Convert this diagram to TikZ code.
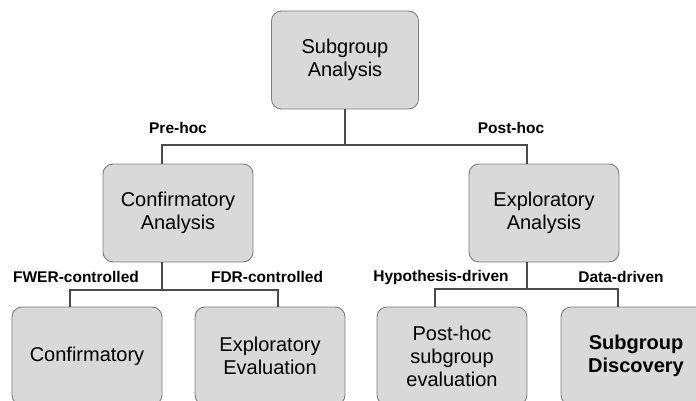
\documentclass[tikz,border=0pt]{standalone}
\usepackage{fontspec}
\setmainfont{Liberation Sans}
\usetikzlibrary{positioning, calc}
\usepackage{xcolor}
\definecolor{sgfill}{RGB}{217, 217, 217}
\definecolor{sgedge}{RGB}{125, 125, 125}
\definecolor{sgline}{RGB}{75, 75, 75}
\tikzset{
  sgbox/.style={
    rectangle, rounded corners=10pt,
    draw=sgedge, fill=sgfill, line width=0.9pt,
    minimum width=150pt, minimum height=98pt,
    text width=140pt, align=center,
    font=\fontsize{20}{23}\selectfont, inner sep=0pt
  },
  lbl/.style={
    font=\fontsize{15.5}{18}\selectfont\bfseries, inner sep=0pt
  },
  conn/.style={line width=2pt, color=sgline},
}
\begin{document}
\begin{tikzpicture}[x=1pt, y=-1pt]
    \useasboundingbox (0,0) rectangle (696,401);
    \clip (0,0) rectangle (696,401);

    \node[sgbox, minimum width=147pt] (sga) at (345,60) {Subgroup\\Analysis};

    \node[sgbox] (ca) at (178,213) {Confirmatory\\Analysis};
    \node[sgbox] (ea) at (544,213) {Exploratory\\Analysis};

    \node[sgbox] (cf)  at (87,356)  {Confirmatory};
    \node[sgbox] (ee)  at (270,356) {Exploratory\\Evaluation};
    \node[sgbox] (phe) at (452,356) {Post-hoc\\subgroup\\evaluation};
    \node[sgbox] (sd)  at (636,356) {\bfseries Subgroup\\Discovery};

    \node[lbl] (pre)  at (178,128) {Pre-hoc};
    \node[lbl] (post) at (511,128) {Post-hoc};
    \node[lbl] (fwer) at (76,277)  {FWER-controlled};
    \node[lbl] (fdr)  at (267,277) {FDR-controlled};
    \node[lbl] (hyp)  at (441,277) {Hypothesis-driven};
    \node[lbl] (dat)  at (621,277) {Data-driven};

    % junctions of the tree
    \coordinate (j0) at (345,145);
    \coordinate (j1) at (162,290);
    \coordinate (j2) at (527,289);

    \draw[conn] (sga.south) -- (j0);
    \draw[conn] ([xshift=-16pt]ca.north) |- (j0) -| ([xshift=-17pt]ea.north);

    \draw[conn] ([xshift=-16pt]ca.south) -- (j1);
    \draw[conn] ([xshift=-17pt]cf.north) |- (j1) -| ([xshift=8pt]ee.north);

    \draw[conn] ([xshift=-17pt]ea.south) -- (j2);
    \draw[conn] ([xshift=-17pt]phe.north) |- (j2) -| ([xshift=-18pt]sd.north);
  \end{tikzpicture}
\end{document}
